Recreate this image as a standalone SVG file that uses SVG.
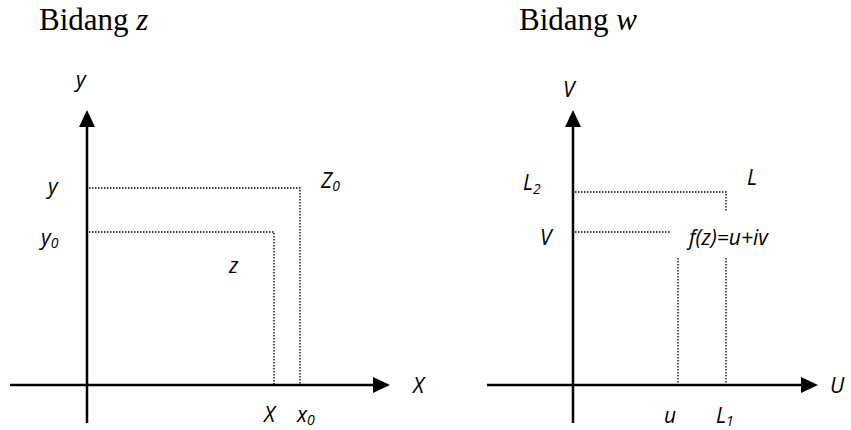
<svg xmlns="http://www.w3.org/2000/svg" width="851" height="430" viewBox="0 0 851 430">
<style>
.t{font-family:"Liberation Serif","Times New Roman",serif;font-size:31px;fill:#000}
.l{font-family:"Open Sans","Liberation Sans",sans-serif;font-style:italic;font-size:21px;fill:#000}
.s{font-size:14px}
.ax{stroke:#000;stroke-width:2.5;fill:none}
.dot{stroke:#000;stroke-width:1.3;stroke-dasharray:1.5 1.5;fill:none}
</style>
<g id="title-z"><text class="t" x="39" y="30">Bidang <tspan font-style="italic">z</tspan></text></g>
<g id="title-w"><text class="t" x="519" y="30">Bidang <tspan font-style="italic">w</tspan></text></g>
<g id="connectors">
<line class="ax" x1="87" y1="124" x2="87" y2="423"/>
<polygon points="87,110 79,127 95,127" fill="#000"/>
<line class="ax" x1="10" y1="385" x2="375" y2="385"/>
<polygon points="390,385 373,377 373,393" fill="#000"/>
<polyline class="dot" points="89,188 300,188 300,384"/>
<polyline class="dot" points="89,232 274,232 274,384"/>
<line class="ax" x1="573" y1="124" x2="573" y2="423"/>
<polygon points="573,110 565,127 581,127" fill="#000"/>
<line class="ax" x1="487" y1="385" x2="803" y2="385"/>
<polygon points="818,385 801,377 801,393" fill="#000"/>
<polyline class="dot" points="575,192 726,192 726,211"/>
<line class="dot" x1="726" y1="258" x2="726" y2="384"/>
<line class="dot" x1="575" y1="232" x2="671" y2="232"/>
<line class="dot" x1="678" y1="258" x2="678" y2="384"/>
</g>
<g id="labels-z">
<text class="l" x="76" y="87">y</text>
<text class="l" x="48" y="194">y</text>
<text class="l" x="321" y="188">Z<tspan class="s" dy="3">0</tspan></text>
<text class="l" x="41" y="245">y<tspan class="s" dy="3">0</tspan></text>
<text class="l" x="229" y="273">z</text>
<text class="l" x="413" y="393">X</text>
<text class="l" x="264" y="422">X</text>
<text class="l" x="297" y="422">x<tspan class="s" dy="3">0</tspan></text>
</g>
<g id="labels-w">
<text class="l" x="563" y="97">V</text>
<text class="l" x="523" y="190">L<tspan class="s" dy="4">2</tspan></text>
<text class="l" x="747" y="185">L</text>
<text class="l" x="540" y="245">V</text>
<text class="l" x="689" y="245">f(z)=u+iv</text>
<text class="l" x="830" y="393">U</text>
<text class="l" x="664" y="423">u</text>
<text class="l" x="716" y="423">L<tspan class="s" dy="3">1</tspan></text>
</g>
</svg>
